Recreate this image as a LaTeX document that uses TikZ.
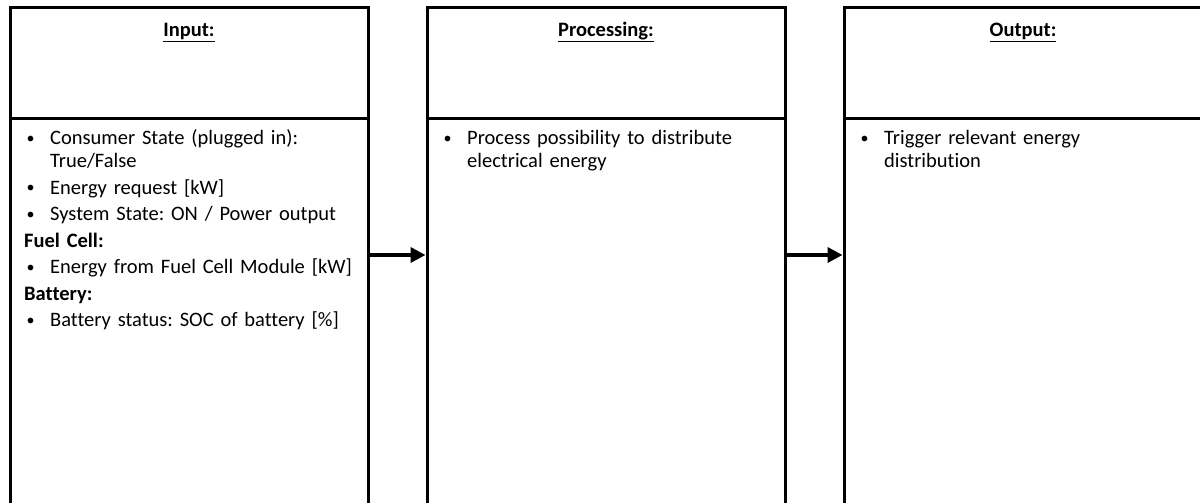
\documentclass[tikz,border=0pt]{standalone}
\usepackage{fontspec}
\setmainfont{Carlito}[Ligatures={NoCommon,NoContextual}]
\usetikzlibrary{arrows.meta}

% small round bullet, raised to the middle of the x-height
\newcommand{\smallbul}{\raisebox{0.15ex}{\fontsize{16}{16}\selectfont\textbullet}}
% bullet item with hanging indent
\newcommand{\bitem}[1]{\par\hangindent=26pt\hangafter=1\noindent\hbox to 26pt{\hskip2.5pt\smallbul\hfil}#1\par}
\newcommand{\bhead}[1]{\par\noindent\textbf{#1}\par}

\begin{document}
\frenchspacing
\begin{tikzpicture}[x=1pt,y=-1pt,
  frame/.style={draw=black, line width=3pt, inner sep=0pt, outer sep=0pt,
                anchor=north west, minimum width=358pt},
  headbox/.style={frame, minimum height=110pt},
  bodybox/.style={frame, minimum height=420pt},
  title/.style={anchor=base, font=\fontsize{20.5}{23}\selectfont\bfseries},
  bodytext/.style={anchor=base west, inner sep=0pt, text width=400pt, align=left,
                   font=\fontsize{20.5}{23}\selectfont\frenchspacing\setlength{\parskip}{3.5pt}},
  flow/.style={line width=3.6pt, -{Triangle[length=15pt,width=15pt]},
               shorten >=1.5pt, shorten <=1.5pt}
]
\useasboundingbox (0,0) rectangle (1200,503);
\clip (0,0) rectangle (1200,503);

% three columns: header cell above, content cell below
\node[headbox] (inH)   at (10,8)  {};
\node[bodybox] (inB)   at (inH.south west) {};
\node[headbox] (procH) at (427,8) {};
\node[bodybox] (procB) at (procH.south west) {};
\node[headbox] (outH)  at (844,8) {};
\node[bodybox] (outB)  at (outH.south west) {};

% column titles
\node[title] (inT)   at ([yshift=-28.5pt]inH.north)   {\underline{Input:}};
\node[title] (procT) at ([yshift=-28.5pt]procH.north) {\underline{Processing:}};
\node[title] (outT)  at ([yshift=-28.5pt]outH.north)  {\underline{Output:}};

% column contents
\node[bodytext] (inX) at ([xshift=14pt,yshift=0pt]inB.north west) {%
  \bitem{Consumer State (plugged in):\newline True/False}
  \bitem{Energy request [kW]}
  \bitem{System State: ON / Power output}
  \bhead{Fuel Cell:}
  \bitem{Energy from Fuel Cell Module [kW]}
  \bhead{Battery:}
  \bitem{Battery status: SOC of battery [\%]}};
\node[bodytext] (procX) at ([xshift=14pt,yshift=0pt]procB.north west) {%
  \bitem{Process possibility to distribute\newline electrical energy}};
\node[bodytext] (outX) at ([xshift=14pt,yshift=0pt]outB.north west) {%
  \bitem{Trigger relevant energy\newline distribution}};

% flow arrows between the columns
\coordinate (flowY) at (0,255);
\draw[flow] (inB.east |- flowY) -- (procB.west |- flowY);
\draw[flow] (procB.east |- flowY) -- (outB.west |- flowY);
\end{tikzpicture}
\end{document}
